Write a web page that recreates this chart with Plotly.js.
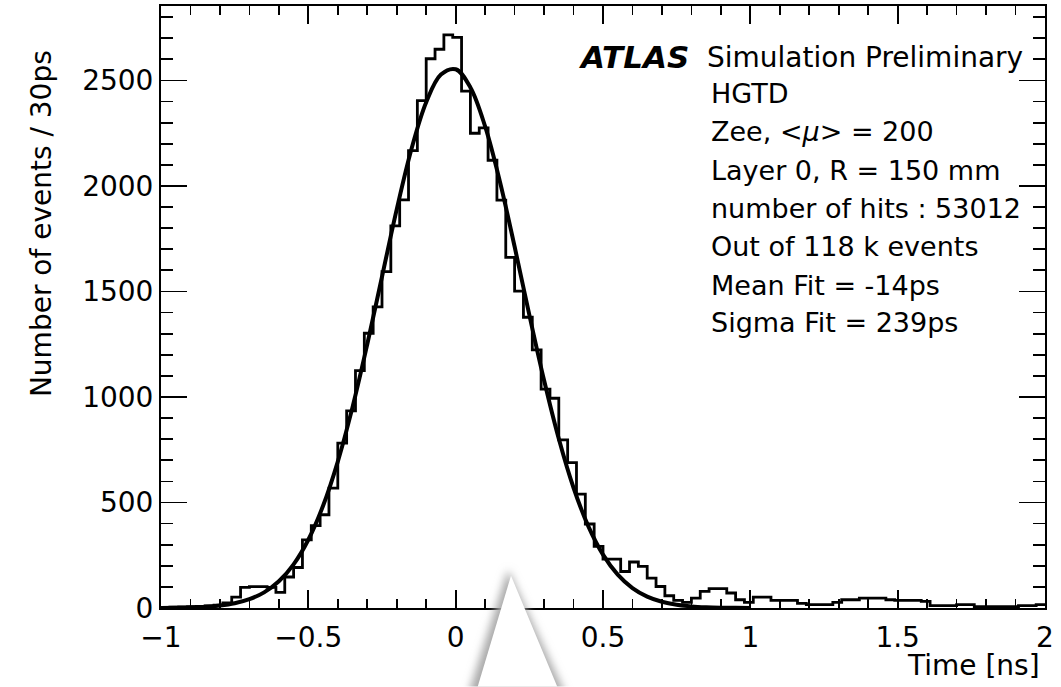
<!DOCTYPE html>
<html>
<head>
<meta charset="utf-8">
<script src="https://cdn.plot.ly/plotly-3.0.1.min.js"></script>
<style>html,body{margin:0;padding:0;background:#fff;}#chart{width:1061px;height:687px;}</style>
</head>
<body>
<div id="chart"></div>
<script>
// ---- data ----
const binLow = -1.0;      // ns, first bin edge
const binWidth = 0.03;    // ns (30 ps)
const counts = [
  3, 4, 5, 6, 8, 10, 13, 24, 52, 98,
  101, 101, 98, 74, 147, 192, 323, 390, 442, 568,
  781, 934, 1125, 1302, 1427, 1594, 1811, 1934, 2168, 2405,
  2603, 2648, 2716, 2704, 2450, 2250, 2275, 2122, 1933, 1662,
  1502, 1378, 1223, 1037, 994, 797, 689, 540, 398, 292,
  232, 232, 173, 218, 197, 142, 102, 58, 36, 27,
  47, 79, 92, 92, 71, 39, 27, 52, 52, 36,
  36, 36, 22, 16, 16, 16, 27, 39, 39, 47,
  47, 47, 39, 36, 36, 36, 31, 11, 11, 11,
  16, 16, 6, 6, 6, 6, 6, 11, 11, 16
];
const fitX = [-1.0, -0.95, -0.9, -0.85, -0.8, -0.75, -0.7, -0.65, -0.6, -0.55,
  -0.5, -0.45, -0.4, -0.35, -0.3, -0.25, -0.2, -0.15, -0.1, -0.05,
  0.0, 0.05, 0.1, 0.15, 0.2, 0.25, 0.3, 0.35, 0.4, 0.45,
  0.5, 0.55, 0.6, 0.65, 0.7, 0.75, 0.8, 0.85, 0.9, 0.95, 1.0];
const fitY = [0.5, 1.2, 2.7, 5.6, 11.5, 22.3, 41.6, 74.1, 126.5, 206.8,
  323.5, 484.4, 694, 952, 1250, 1570, 1889, 2175, 2397, 2528,
  2553, 2467, 2282, 2021, 1713, 1389, 1079, 802, 570, 388,
  253, 158, 94.3, 53.9, 29.5, 15.4, 7.7, 3.7, 1.7, 0.75, 0.3];
const xTickVals = [-1, -0.5, 0, 0.5, 1, 1.5, 2];
const xTickText = ['\u22121', '\u22120.5', '0', '0.5', '1', '1.5', '2'];
const yTickVals = [0, 500, 1000, 1500, 2000, 2500];
const yTickText = ['0', '500', '1000', '1500', '2000', '2500'];
const atlasLabel = 'ATLAS';
const atlasSub = 'Simulation Preliminary';
const infoLines = [
  'HGTD',
  'Zee, <i>&lt;\u03bc&gt;</i> = 200',
  'Layer 0, R = 150 mm',
  'number of hits : 53012',
  'Out of 118 k events',
  'Mean Fit = -14ps',
  'Sigma Fit = 239ps'
];
const xTitle = 'Time [ns]';
const yTitle = 'Number of events / 30ps';

// ---- histogram outline from bin edges ----
const hx = [], hy = [];
for (let i = 0; i <= counts.length; i++) {
  hx.push(binLow + i * binWidth);
  hy.push(counts[Math.min(i, counts.length - 1)]);
}

// ---- layout geometry ----
const W = 1061, H = 687;
const L = 161, R = 1045, T = 5.7, B = 608.3;
const px = x => (x - L) / (R - L);
const py = y => (B - y) / (B - T);
const FONT = 'DejaVu Sans, Liberation Sans, Arial, sans-serif';

const annotations = [];
annotations.push({
  xref: 'paper', yref: 'paper', x: px(576), y: py(57), xanchor: 'left', yanchor: 'middle',
  text: '<b><i>' + atlasLabel + '</i></b>', showarrow: false,
  font: {family: FONT, size: 31, color: '#000'}
});
annotations.push({
  xref: 'paper', yref: 'paper', x: px(705), y: py(57), xanchor: 'left', yanchor: 'middle',
  text: atlasSub, showarrow: false,
  font: {family: FONT, size: 28, color: '#000'}
});
const lineY = [93, 131.7, 170, 208, 246.7, 285, 323];
infoLines.forEach((t, i) => annotations.push({
  xref: 'paper', yref: 'paper', x: px(709), y: py(lineY[i]), xanchor: 'left', yanchor: 'middle',
  text: t, showarrow: false, font: {family: FONT, size: 27, color: '#000'}
}));
annotations.push({
  xref: 'paper', yref: 'paper', x: px(1042), y: py(666), xanchor: 'right', yanchor: 'middle',
  text: xTitle, showarrow: false, font: {family: FONT, size: 28, color: '#000'}
});
annotations.push({
  xref: 'paper', yref: 'paper', x: px(41), y: py(224), xanchor: 'center', yanchor: 'middle',
  text: yTitle, textangle: -90, showarrow: false, font: {family: FONT, size: 28, color: '#000'}
});

// pointer / callout overlay seen at the bottom of the reference
const svg = "<svg xmlns='http://www.w3.org/2000/svg' width='160' height='167' viewBox='0 0 160 167'>" +
  "<defs><filter id='f' x='-50%' y='-50%' width='200%' height='200%'><feGaussianBlur stdDeviation='4'/></filter></defs>" +
  "<polygon points='68,50 28,176 126,176' fill='#a8a8a8' filter='url(#f)'/>" +
  "<polygon points='71,56 35,176 121,176' fill='#ffffff'/></svg>";
const images = [{
  source: 'data:image/svg+xml;charset=utf-8,' + encodeURIComponent(svg),
  xref: 'paper', yref: 'paper', x: px(440), y: py(520), sizex: 160 / (R - L), sizey: 167 / (B - T),
  xanchor: 'left', yanchor: 'top', sizing: 'stretch', layer: 'above'
}];

const traces = [
  {x: hx, y: hy, type: 'scatter', mode: 'lines', line: {shape: 'hv', color: '#000', width: 2.8},
   hoverinfo: 'skip', showlegend: false},
  {x: fitX, y: fitY, type: 'scatter', mode: 'lines', line: {shape: 'spline', color: '#000', width: 4},
   hoverinfo: 'skip', showlegend: false}
];

const axisCommon = {
  showgrid: false, zeroline: false, showline: true, linecolor: '#000', linewidth: 2,
  mirror: 'allticks', ticks: 'inside', tickcolor: '#000', tickwidth: 1.8,
  tickfont: {family: FONT, size: 28, color: '#000'}, fixedrange: true
};
const layout = {
  width: W, height: H,
  margin: {l: L, r: W - R, t: T, b: H - B, pad: 0},
  paper_bgcolor: '#fff', plot_bgcolor: '#fff',
  showlegend: false,
  xaxis: Object.assign({}, axisCommon, {
    range: [-1, 2], tickmode: 'array', tickvals: xTickVals, ticktext: xTickText, ticklen: 18,
    ticklabelstandoff: 3,
    minor: {dtick: 0.1, tick0: -1, ticklen: 9, tickcolor: '#000', tickwidth: 1.8, ticks: 'inside', showgrid: false}
  }),
  yaxis: Object.assign({}, axisCommon, {
    range: [0, 2853], tickmode: 'array', tickvals: yTickVals, ticktext: yTickText, ticklen: 26,
    minor: {dtick: 100, tick0: 0, ticklen: 12, tickcolor: '#000', tickwidth: 1.8, ticks: 'inside', showgrid: false}
  }),
  annotations: annotations,
  images: images
};

Plotly.newPlot('chart', traces, layout, {staticPlot: true, displayModeBar: false});
</script>
</body>
</html>
